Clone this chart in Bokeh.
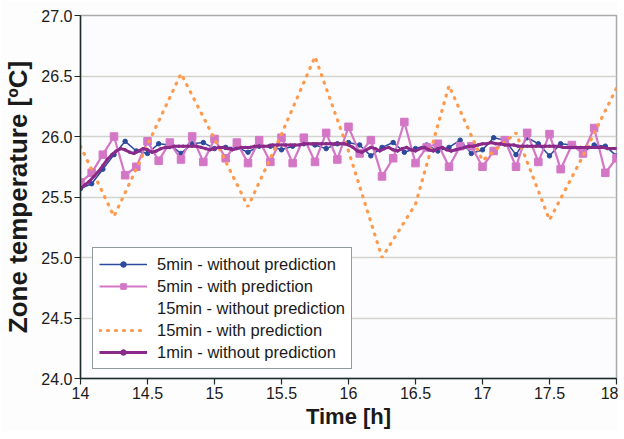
import numpy as np
from bokeh.plotting import figure
from bokeh.models import Legend, LegendItem, FixedTicker, Range1d
from bokeh.embed import file_html
from bokeh.resources import INLINE

# ---- data ----
t_5min = 14 + np.arange(49) / 12.0
t_15min = 14 + np.arange(17) / 4.0
t_1min = 14 + np.arange(121) / 30.0   # sampled every 2 minutes

blue_5min_nopred = [25.57, 25.61, 25.73, 25.85, 25.96, 25.88, 25.86, 25.94, 25.93, 25.86,
                    25.94, 25.95, 25.90, 25.91, 25.91, 25.87, 25.92, 25.92, 25.89, 25.92,
                    25.94, 25.93, 25.90, 25.94, 25.95,
                    25.93, 25.84, 25.91, 25.95, 25.87, 25.90, 25.93, 25.88, 25.91, 25.97,
                    25.86, 25.89, 25.99, 25.97, 25.85, 25.99, 25.94, 25.84, 25.94, 25.93,
                    25.87, 25.93, 25.92, 25.84]

pink_5min_pred = [25.62, 25.70, 25.85, 26.00, 25.68, 25.75, 25.96, 25.80, 25.95, 25.81,
                  26.00, 25.79, 25.98, 25.82, 25.95, 25.78, 25.97, 25.79, 25.99, 25.78,
                  25.99, 25.79, 26.03, 25.81, 26.08, 25.86, 25.97, 25.67, 25.82, 26.12,
                  25.78, 25.91, 25.94, 25.75, 25.92, 25.92, 25.75, 25.88, 25.97, 25.75,
                  26.03, 25.79, 26.02, 25.73, 25.93, 25.86, 26.07, 25.70, 25.82]

orange_15min_pred = [25.92, 25.34, 25.93, 26.52, 25.98, 25.42, 26.02, 26.66, 25.88,
                     25.00, 25.44, 26.42, 25.80, 26.03, 25.31, 25.84, 26.40]

purple_1min_nopred = [25.57, 25.60, 25.63, 25.67, 25.71, 25.76, 25.81, 25.85, 25.88, 25.90,
                      25.89, 25.87, 25.86, 25.88, 25.90, 25.89, 25.87, 25.88, 25.90, 25.91,
                      25.91, 25.92, 25.92, 25.92, 25.92, 25.92, 25.92, 25.91, 25.90, 25.89,
                      25.90, 25.91, 25.91, 25.90, 25.89, 25.90, 25.91, 25.91, 25.91, 25.92,
                      25.92, 25.92, 25.92, 25.93, 25.93, 25.93, 25.93, 25.93, 25.93, 25.93,
                      25.94, 25.94, 25.94, 25.94, 25.94, 25.94, 25.94, 25.94, 25.94, 25.94,
                      25.93, 25.91, 25.88, 25.87, 25.89, 25.91, 25.90, 25.88, 25.90, 25.91,
                      25.89, 25.88, 25.90, 25.91, 25.89, 25.88, 25.90, 25.91, 25.89, 25.88,
                      25.90, 25.91, 25.89, 25.88, 25.89, 25.90, 25.91, 25.92, 25.92, 25.93,
                      25.94, 25.94, 25.95, 25.94, 25.94, 25.93, 25.93, 25.93, 25.92, 25.92,
                      25.92, 25.92, 25.92, 25.92, 25.92, 25.92, 25.92, 25.92, 25.91, 25.91,
                      25.91, 25.91, 25.91, 25.91, 25.91, 25.91, 25.91, 25.91, 25.90, 25.90,
                      25.90]

x_ticks = [14, 14.5, 15, 15.5, 16, 16.5, 17, 17.5, 18]
x_labels = ["14", "14.5", "15", "15.5", "16", "16.5", "17", "17.5", "18"]
y_ticks = [24.0, 24.5, 25.0, 25.5, 26.0, 26.5, 27.0]
y_labels = ["24.0", "24.5", "25.0", "25.5", "26.0", "26.5", "27.0"]

series_labels = ["5min - without prediction", "5min - with prediction",
                 "15min - without prediction", "15min - with prediction",
                 "1min - without prediction"]

FONT = "Liberation Sans"
BLUE = "#2b4a9c"
PINK = "#d476c6"
ORANGE = "#ff9a4d"
PURPLE = "#8a2a8a"

p = figure(frame_width=536, frame_height=363, x_range=Range1d(14, 18), y_range=Range1d(24, 27),
           output_backend="svg", toolbar_location=None,
           min_border_left=74, min_border_right=2, min_border_top=15, min_border_bottom=45)
p.background_fill_color = "#fcfcfe"
p.border_fill_color = "#fdfdfd"
p.outline_line_color = "#aaaaaa"
p.outline_line_width = 1.5

p.xgrid.grid_line_color = None
p.ygrid.grid_line_color = "#d3d4cd"
p.ygrid.grid_line_width = 1.5

p.xaxis.ticker = FixedTicker(ticks=x_ticks)
p.yaxis.ticker = FixedTicker(ticks=y_ticks)
p.xaxis.major_label_overrides = {t: l for t, l in zip(x_ticks, x_labels)}
p.yaxis.major_label_overrides = {t: l for t, l in zip(y_ticks, y_labels)}

for ax in (p.xaxis, p.yaxis):
    ax.axis_line_color = "#1d2b2b"
    ax.axis_line_width = 1.5
    ax.major_tick_line_color = "#1d2b2b"
    ax.major_tick_line_width = 1.2
    ax.major_tick_out = 6
    ax.major_tick_in = 0
    ax.minor_tick_line_color = None
    ax.major_label_text_font = FONT
    ax.major_label_text_font_size = "16px"
    ax.major_label_text_color = "#1a1a1a"
    ax.major_label_standoff = 2
    ax.axis_label_text_font = FONT
    ax.axis_label_text_font_style = "bold"
    ax.axis_label_text_color = "#1a1a1a"

p.xaxis.axis_label = "Time [h]"
p.xaxis.axis_label_text_font_size = "22px"
p.xaxis.axis_label_standoff = 2
p.yaxis.axis_label = "Zone temperature [ºC]"
p.yaxis.axis_label_text_font_size = "26px"
p.yaxis.axis_label_standoff = 5

b_line = p.line(t_5min, blue_5min_nopred, line_color=BLUE, line_width=1.5)
b_pts = p.scatter(t_5min, blue_5min_nopred, marker="circle", size=4.5,
                  fill_color=BLUE, line_color=BLUE)
k_line = p.line(t_5min, pink_5min_pred, line_color=PINK, line_width=2.2)
k_pts = p.scatter(t_5min, pink_5min_pred, marker="square", size=7.5,
                  fill_color=PINK, line_color=PINK)
hidden = p.line([], [], line_alpha=0)
o_line = p.line(t_15min, orange_15min_pred, line_color=ORANGE, line_width=3.2,
                line_dash="1 7", line_cap="round")
u_line = p.line(t_1min, purple_1min_nopred, line_color=PURPLE, line_width=3)
u_pts = p.scatter(t_1min, purple_1min_nopred, marker="circle", size=2.5,
                  fill_color=PURPLE, line_color=PURPLE)

legend = Legend(items=[
    LegendItem(label=series_labels[0], renderers=[b_line, b_pts]),
    LegendItem(label=series_labels[1], renderers=[k_line, k_pts]),
    LegendItem(label=series_labels[2], renderers=[hidden]),
    LegendItem(label=series_labels[3], renderers=[o_line]),
    LegendItem(label=series_labels[4], renderers=[u_line, u_pts]),
], location=(12, 9))
legend.border_line_color = "#1f3a3a"
legend.border_line_width = 1.5
legend.background_fill_color = "white"
legend.background_fill_alpha = 1
legend.label_text_font = FONT
legend.label_text_font_size = "16.5px"
legend.label_text_color = "#1a1a1a"
legend.glyph_width = 48
legend.glyph_height = 14
legend.label_height = 20
legend.spacing = 2
legend.padding = 6
legend.label_standoff = 10
legend.margin = 0
p.add_layout(legend)

open("out.html", "w").write(file_html(p, INLINE))
